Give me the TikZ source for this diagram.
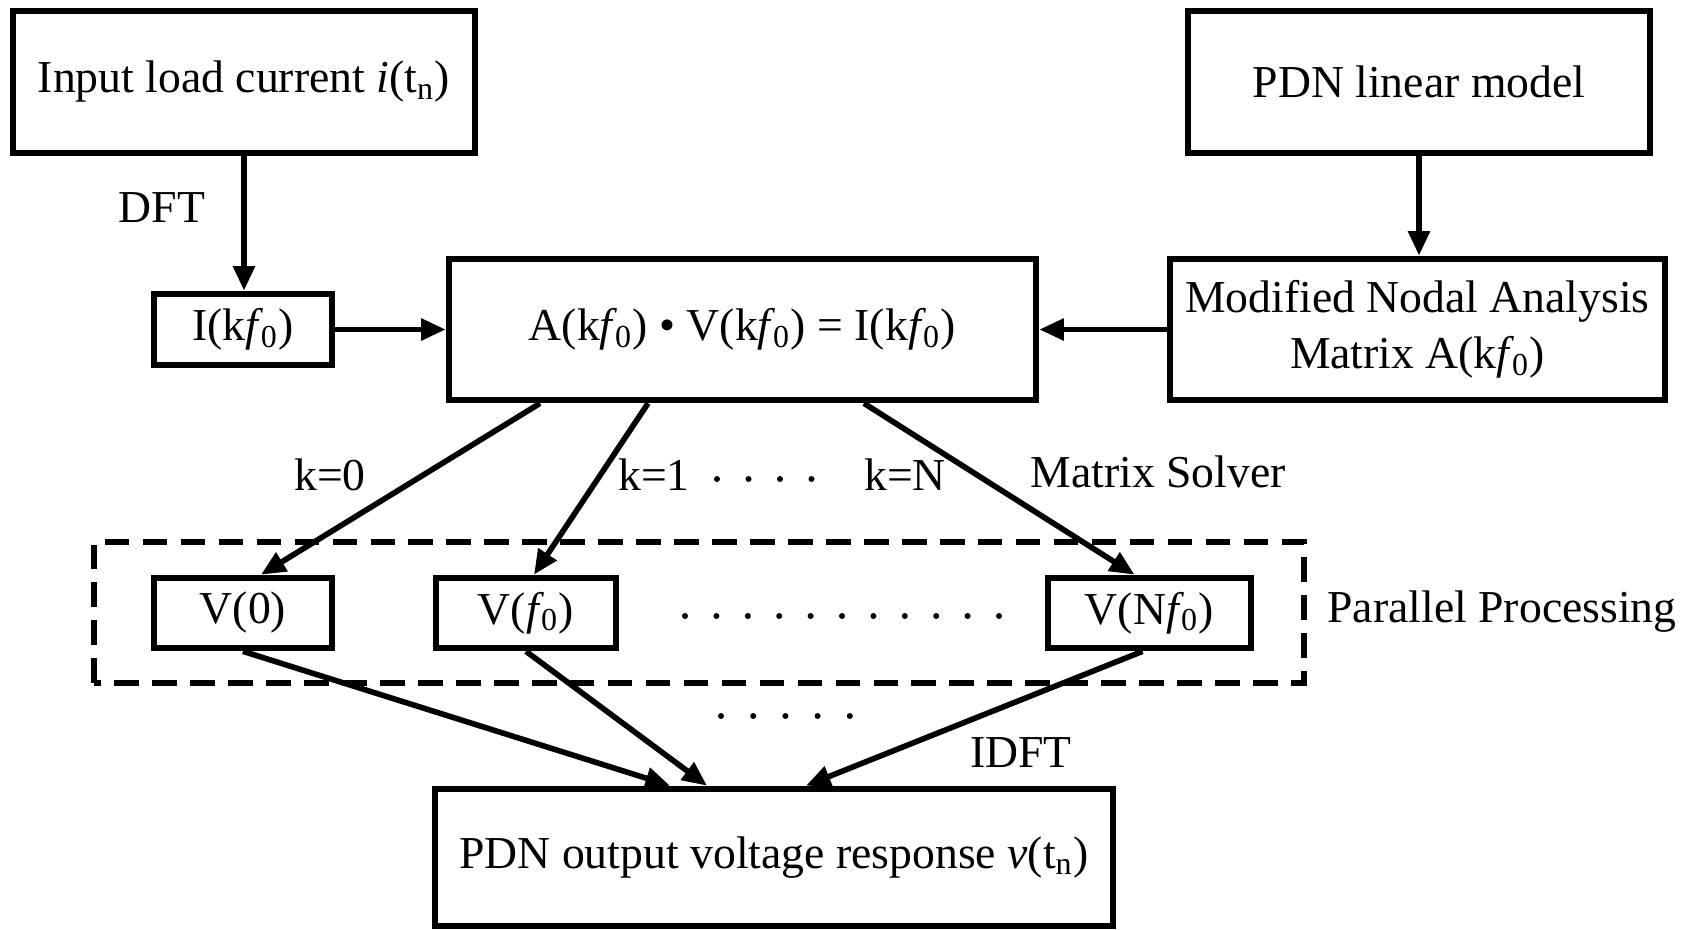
\documentclass[tikz,border=0pt]{standalone}
\usepackage{fontspec}
\setmainfont{Liberation Serif}
\usetikzlibrary{arrows.meta,calc,positioning}

\newcommand{\fz}{\textit{f}\kern-0.06em\textsubscript{0}}
\newcommand{\kfz}{k\fz}

\begin{document}
\begin{tikzpicture}[>={Triangle[length=7pt,width=6pt]},
    font=\fontsize{13}{16}\selectfont,
    box/.style={draw,line width=1.9pt,align=center,inner sep=0pt},
    flow/.style={->,line width=1.6pt},
    lbl/.style={inner sep=0pt}]
    \useasboundingbox (0,0) rectangle (16.94,9.29);
    % top row
    \node[box,minimum width=4.62cm,minimum height=1.42cm] (in) at (2.44,8.47)
      {Input load current \textit{i}(t\textsubscript{n})};
    \node[box,minimum width=4.62cm,minimum height=1.42cm] (lin) at (14.19,8.47)
      {PDN linear model};
    % solve row
    \node[box,minimum width=1.78cm,minimum height=0.71cm] (Ik) at (2.43,5.995)
      {I(\kfz)};
    \node[box,minimum width=5.87cm,minimum height=1.41cm] (eq) at (7.425,5.995)
      {A(\kfz) \textbullet{} V(\kfz) = I(\kfz)};
    \node[box,minimum width=4.95cm,minimum height=1.41cm] (mna) at (14.175,5.995)
      {Modified Nodal Analysis\\Matrix A(\kfz)};
    % parallel row
    \draw[line width=1.8pt,dash pattern=on 7pt off 3.8pt] (0.94,2.46) rectangle (13.04,3.87);
    \node[box,minimum width=1.78cm,minimum height=0.70cm] (V0) at (2.43,3.16) {V(0)};
    \node[box,minimum width=1.80cm,minimum height=0.70cm] (V1) at (5.26,3.16)
      {V(\fz)};
    \node[box,minimum width=2.03cm,minimum height=0.70cm] (VN) at (11.495,3.16)
      {V(N\fz)};
    \node[box,minimum width=6.78cm,minimum height=1.37cm] (out) at (7.74,0.715)
      {PDN output voltage response \textit{v}(t\textsubscript{n})};
    % labels
    \node[lbl] (dft) at (1.62,7.21) {DFT};
    \node[lbl] (k0) at (3.30,4.54) {k=0};
    \node[lbl] (k1) at (6.54,4.54) {k=1};
    \node[lbl] (kN) at (9.05,4.54) {k=N};
    \node[lbl] (solver) at (11.58,4.57) {Matrix Solver};
    \node[lbl] (par) at (15.02,3.17) {Parallel Processing};
    \node[lbl] (idft) at (10.21,1.76) {IDFT};
    \foreach \i in {0,...,3}
      \fill (7.17+0.315*\i,4.50) circle (0.03);
    \foreach \i in {0,...,10}
      \fill (6.85+0.314*\i,3.13) circle (0.03);
    \foreach \i in {0,...,4}
      \fill (7.21+0.322*\i,2.13) circle (0.03);
    % connectors
    \draw[flow] (in.south) -- (in.south |- Ik.north);
    \draw[flow] (Ik.east) -- (eq.west);
    \draw[flow] (lin.south) -- (lin.south |- mna.north);
    \draw[flow] (mna.west) -- (eq.east);
    \draw[flow] ([xshift=-2.025cm]eq.south) -- ([xshift=0.18cm]V0.north);
    \draw[flow] ([xshift=-0.945cm]eq.south) -- ([xshift=0.08cm]V1.north);
    \draw[flow] ([xshift=1.215cm]eq.south) -- ([xshift=-0.15cm]VN.north);
    \draw[flow] (V0.south) -- ([xshift=-1.04cm]out.north);
    \draw[flow] (V1.south) -- ([xshift=-0.67cm]out.north);
    \draw[flow] ([xshift=-0.07cm]VN.south) -- ([xshift=0.32cm]out.north);
  \end{tikzpicture}
\end{document}
